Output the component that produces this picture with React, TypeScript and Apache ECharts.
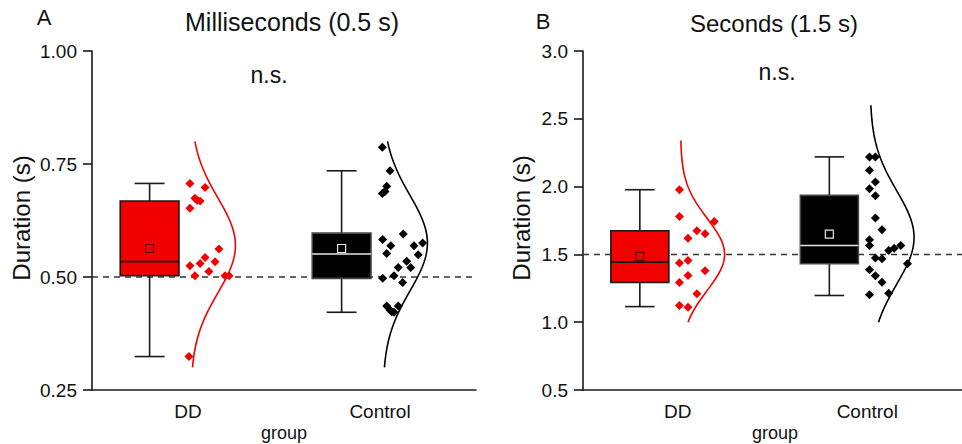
import React, { useEffect, useRef } from "react";
import * as echarts from "echarts";

// ---------- data ----------
const groups = ["DD", "Control"];

// Panel A: Milliseconds (0.5 s)
const msTicks = { min: 0.25, max: 1.0, interval: 0.25 };
const msTarget = 0.5;
// [lower whisker, Q1, median, Q3, upper whisker, mean]
const msBoxDD = [0.324, 0.503, 0.534, 0.668, 0.707, 0.563];
const msBoxCtl = [0.422, 0.497, 0.551, 0.597, 0.735, 0.563];
const msPointsDD = [0.707, 0.698, 0.674, 0.67, 0.668, 0.652, 0.562, 0.543, 0.53, 0.525, 0.534, 0.512, 0.503, 0.503, 0.503, 0.324];
const msJitterDD = [0.01, 0.089, 0.036, 0.047, 0.063, 0.01, 0.161, 0.089, 0.063, 0.01, 0.141, 0.109, 0.036, 0.193, 0.214, 0.005];
const msPointsCtl = [0.787, 0.735, 0.701, 0.689, 0.685, 0.595, 0.583, 0.569, 0.569, 0.575, 0.552, 0.549, 0.535, 0.521, 0.521, 0.503, 0.497, 0.488, 0.436, 0.427, 0.423, 0.422, 0.436];
const msJitterCtl = [0.012, 0.052, 0.035, 0.026, 0.012, 0.121, 0.014, 0.056, 0.177, 0.222, 0.035, 0.199, 0.139, 0.095, 0.16, 0.073, 0.014, 0.118, 0.035, 0.052, 0.061, 0.073, 0.095];
// normal fit: [mean, sd, from, to]
const msFitDD = [0.57, 0.105, 0.3, 0.8];
const msFitCtl = [0.575, 0.106, 0.3, 0.8];

// Panel B: Seconds (1.5 s)
const sTicks = { min: 0.5, max: 3.0, interval: 0.5 };
const sTarget = 1.5;
const sBoxDD = [1.115, 1.293, 1.443, 1.674, 1.977, 1.485];
const sBoxCtl = [1.197, 1.431, 1.566, 1.935, 2.219, 1.65];
const sPointsDD = [1.977, 1.78, 1.743, 1.674, 1.652, 1.62, 1.455, 1.436, 1.344, 1.379, 1.293, 1.209, 1.123, 1.111];
const sJitterDD = [0.009, 0.009, 0.193, 0.101, 0.144, 0.054, 0.054, 0.009, 0.054, 0.144, 0.009, 0.101, 0.009, 0.054];
const sPointsCtl = [2.219, 2.219, 2.12, 2.034, 1.985, 1.933, 1.768, 1.682, 1.608, 1.566, 1.529, 1.546, 1.566, 1.473, 1.468, 1.431, 1.386, 1.342, 1.295, 1.202, 1.214];
const sJitterCtl = [0.012, 0.043, 0.012, 0.043, 0.012, 0.043, 0.043, 0.078, 0.012, 0.012, 0.113, 0.142, 0.177, 0.043, 0.078, 0.212, 0.012, 0.043, 0.078, 0.012, 0.113];
const sFitDD = [1.5, 0.265, 1.0, 2.34];
const sFitCtl = [1.625, 0.344, 1.0, 2.6];

// ---------- styling ----------
const FONT = '"Liberation Sans", Arial, Helvetica, sans-serif';
const RED = "#f20000";
const INK = "#1a1a1a";
const CENTERS = [0.5, 1.5];

function normalCurve(center: number, fit: number[]) {
  const [m, sd, lo, hi] = fit;
  const amp = 0.232;
  const base = 0.015;
  const pts: number[][] = [];
  const n = 90;
  for (let i = 0; i <= n; i++) {
    const v = lo + ((hi - lo) * i) / n;
    pts.push([center + base + amp * Math.exp(-((v - m) * (v - m)) / (2 * sd * sd)), v]);
  }
  return pts;
}

function boxSeries(xi: number, yi: number, center: number, stats: number[], fill: string, medColor: string, meanColor: string, edge: string) {
  return {
    type: "custom",
    xAxisIndex: xi,
    yAxisIndex: yi,
    silent: true,
    data: [[center, ...stats]],
    renderItem: (_p: any, api: any) => {
      const c = api.value(0) - 0.2;
      const hw = 0.153;
      const cw = 0.078;
      const lo = api.coord([c, api.value(1)]);
      const q1 = api.coord([c, api.value(2)]);
      const med = api.coord([c, api.value(3)]);
      const q3 = api.coord([c, api.value(4)]);
      const hi = api.coord([c, api.value(5)]);
      const mean = api.coord([c, api.value(6)]);
      const xl = api.coord([c - hw, 0])[0];
      const xr = api.coord([c + hw, 0])[0];
      const cl = api.coord([c - cw, 0])[0];
      const cr = api.coord([c + cw, 0])[0];
      const xc = lo[0];
      const ws = { stroke: INK, lineWidth: 1.6 };
      return {
        type: "group",
        children: [
          { type: "line", shape: { x1: xc, y1: q3[1], x2: xc, y2: hi[1] }, style: ws },
          { type: "line", shape: { x1: xc, y1: q1[1], x2: xc, y2: lo[1] }, style: ws },
          { type: "line", shape: { x1: cl, y1: hi[1], x2: cr, y2: hi[1] }, style: ws },
          { type: "line", shape: { x1: cl, y1: lo[1], x2: cr, y2: lo[1] }, style: ws },
          { type: "rect", shape: { x: xl, y: q3[1], width: xr - xl, height: q1[1] - q3[1] }, style: { fill, stroke: edge, lineWidth: 1.6 } },
          { type: "line", shape: { x1: xl, y1: med[1], x2: xr, y2: med[1] }, style: { stroke: medColor, lineWidth: 1.6 } },
          { type: "rect", shape: { x: xc - 4, y: mean[1] - 4, width: 8, height: 8 }, style: { fill: "none", stroke: meanColor, lineWidth: 1.2 } },
        ],
      };
    },
  };
}

function scatter(xi: number, yi: number, center: number, vals: number[], jit: number[], color: string) {
  return {
    type: "scatter",
    xAxisIndex: xi,
    yAxisIndex: yi,
    symbol: "diamond",
    symbolSize: 9,
    silent: true,
    itemStyle: { color, opacity: 1 },
    data: vals.map((v, i) => [center + jit[i], v]),
  };
}

function curveSeries(xi: number, yi: number, center: number, fit: number[], color: string) {
  return {
    type: "line",
    xAxisIndex: xi,
    yAxisIndex: yi,
    showSymbol: false,
    silent: true,
    lineStyle: { color, width: 1.6 },
    data: normalCurve(center, fit),
  };
}

function refLine(xi: number, yi: number, v: number) {
  return {
    type: "line",
    xAxisIndex: xi,
    yAxisIndex: yi,
    showSymbol: false,
    silent: true,
    z: 1,
    lineStyle: { color: "#333", width: 1.5, type: [6, 5] },
    data: [[0, v], [2, v]],
  };
}

function catAxis(gi: number) {
  return {
    type: "category",
    gridIndex: gi,
    data: groups,
    boundaryGap: true,
    axisLine: { onZero: false, lineStyle: { color: INK, width: 1.6 } },
    axisTick: { alignWithLabel: true, length: 8, lineStyle: { color: INK, width: 1.6 } },
    axisLabel: { fontSize: 19, color: "#111", margin: 12, fontFamily: FONT },
  };
}

function hiddenX(gi: number) {
  return { type: "value", gridIndex: gi, min: 0, max: 2, show: false };
}

function yAxis(gi: number, t: { min: number; max: number; interval: number }, digits: number) {
  return {
    type: "value",
    gridIndex: gi,
    min: t.min,
    max: t.max,
    interval: t.interval,
    splitLine: { show: false },
    axisLine: { show: true, lineStyle: { color: INK, width: 1.6 } },
    axisTick: { show: true, length: 9, lineStyle: { color: INK, width: 1.6 } },
    axisLabel: { fontSize: 19, color: "#111", margin: 15, fontFamily: FONT, formatter: (v: number) => v.toFixed(digits) },
  };
}

function txt(x: number, y: number, text: string, size: number, rotation = 0) {
  return {
    type: "text",
    x,
    y,
    rotation,
    silent: true,
    style: { text, fill: "#111", fontSize: size, fontFamily: FONT, align: "center", verticalAlign: "middle" },
  };
}

export default function App() {
  const ref = useRef<HTMLDivElement>(null);
  useEffect(() => {
    if (!ref.current) return;
    const chart = echarts.init(ref.current, undefined, { renderer: "svg" });
    chart.setOption({
      animation: false,
      backgroundColor: "#fff",
      textStyle: { fontFamily: FONT },
      grid: [
        { left: 92, top: 51, width: 384, height: 339 },
        { left: 583, top: 51, width: 384, height: 339 },
      ],
      xAxis: [catAxis(0), hiddenX(0), catAxis(1), hiddenX(1)],
      yAxis: [yAxis(0, msTicks, 2), yAxis(1, sTicks, 1)],
      series: [
        refLine(1, 0, msTarget),
        refLine(3, 1, sTarget),
        boxSeries(1, 0, CENTERS[0], msBoxDD, RED, "#111", "#5a0000", INK),
        boxSeries(1, 0, CENTERS[1], msBoxCtl, "#000", "#e6e6e6", "#e6e6e6", "#444"),
        boxSeries(3, 1, CENTERS[0], sBoxDD, RED, "#111", "#5a0000", INK),
        boxSeries(3, 1, CENTERS[1], sBoxCtl, "#000", "#e6e6e6", "#e6e6e6", "#444"),
        scatter(1, 0, CENTERS[0], msPointsDD, msJitterDD, RED),
        scatter(1, 0, CENTERS[1], msPointsCtl, msJitterCtl, "#000"),
        scatter(3, 1, CENTERS[0], sPointsDD, sJitterDD, RED),
        scatter(3, 1, CENTERS[1], sPointsCtl, sJitterCtl, "#000"),
        curveSeries(1, 0, CENTERS[0], msFitDD, RED),
        curveSeries(1, 0, CENTERS[1], msFitCtl, "#000"),
        curveSeries(3, 1, CENTERS[0], sFitDD, RED),
        curveSeries(3, 1, CENTERS[1], sFitCtl, "#000"),
      ],
      graphic: [
        txt(44, 17, "A", 22),
        txt(292, 22, "Milliseconds (0.5 s)", 25),
        txt(269, 75, "n.s.", 23),
        txt(21, 218, "Duration (s)", 24, Math.PI / 2),
        txt(284, 433, "group", 18),
        txt(543, 21, "B", 22),
        txt(774, 23, "Seconds (1.5 s)", 24),
        txt(777, 72, "n.s.", 23),
        txt(521, 218, "Duration (s)", 24, Math.PI / 2),
        txt(775, 433, "group", 18),
      ],
    });
    return () => chart.dispose();
  }, []);
  return (
    <div
      ref={ref}
      style={{ position: "fixed", left: 0, top: 0, width: 962, height: 444, background: "#fff" }}
    />
  );
}
